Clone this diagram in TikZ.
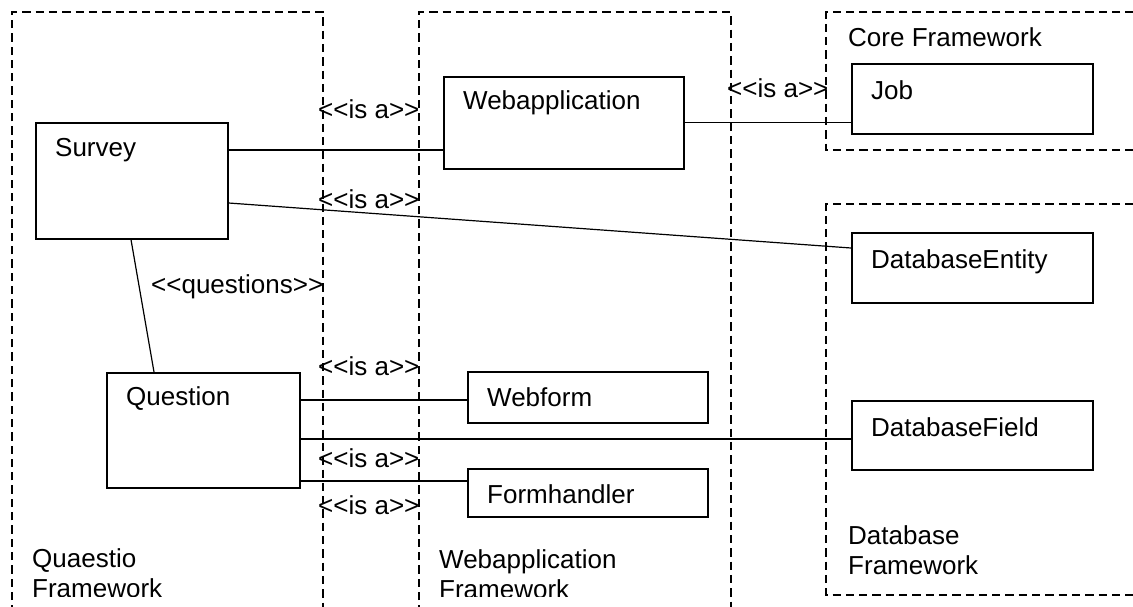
\documentclass[tikz,border=0pt]{standalone}
\usepackage{fontspec}
\setmainfont{Liberation Sans}
\usetikzlibrary{calc}

% stereotype label; the kern keeps << and >> from turning into guillemets
\newcommand\stereo[1]{<\kern0pt<#1>\kern0pt>}

\tikzset{
  frame/.style={line width=1.5pt, dash pattern=on 8.3pt off 5pt},
  umlbox/.style={draw, line width=1.6pt, rectangle, inner sep=0pt, anchor=north west},
  boxtext/.style={anchor=base west, inner sep=0pt},
  link/.style={line width=1.2pt},
  tag/.style={anchor=base west, inner sep=0pt},
  pkgname/.style={anchor=base west, inner sep=0pt, align=left}
}

% #1 name, #2 left, #3 top, #4 width, #5 height, #6 text, #7 baseline offset
\newcommand\classbox[7]{%
  \node[umlbox, minimum width=#4pt, minimum height=#5pt] (#1) at (#2,#3) {};
  \node[boxtext] (#1-name) at ($(#1.north west)+(20,#7)$) {#6};
}

\begin{document}
\begin{tikzpicture}[x=1pt, y=-1pt, font=\fontsize{26}{30}\selectfont]
  \clip (0,0) rectangle (1133,606);
  \fill[white] (0,0) rectangle (1133,606);

  % package frames
  \draw[frame] (12,640) -- (12,12) -- (323,12) -- (323,640);
  \draw[frame] (419,640) -- (419,12) -- (731,12) -- (731,640);
  \draw[frame] (1160,12) -- (826,12) -- (826,150) -- (1160,150);
  \draw[frame] (1160,204) -- (826,204) -- (826,595) -- (1160,595);

  % package names (base anchor sits on the last line)
  \node[pkgname] (core) at (848,46) {Core Framework};
  \begin{scope}
    \clip (0,0) rectangle (1133,596);
    \node[pkgname] (quaestio) at (32,597) {Quaestio\\Framework};
    \node[pkgname] (webfw) at (439,598) {Webapplication\\Framework};
  \end{scope}
  \node[pkgname] (dbfw) at (848,574) {Database\\Framework};

  % classes
  \classbox{survey}{35}{122}{192}{116}{Survey}{34}
  \classbox{webapp}{443}{76}{240}{92}{Webapplication}{33}
  \classbox{job}{851}{63}{241}{70}{Job}{36}
  \classbox{dbentity}{851}{232}{241}{70}{DatabaseEntity}{36}
  \classbox{question}{106}{372}{193}{115}{Question}{33}
  \classbox{webform}{467}{371}{240}{51}{Webform}{35}
  \classbox{formhandler}{467}{468}{240}{48}{Formhandler}{35}
  \classbox{dbfield}{851}{400}{241}{69}{DatabaseField}{36}

  % associations
  \draw[link] (survey.east |- 0,150) -- (webapp.west |- 0,150);
  \draw[link] (webapp.east) -- (job.west |- webapp.east);
  \draw[link] (survey.east |- 0,203) -- (dbentity.west |- 0,248);
  \draw[link] (survey.south -| 131,0) -- (question.north -| 154,0);
  \draw[link] (question.east |- 0,400) -- (webform.west |- 0,400);
  \draw[link] (question.east |- 0,439) -- (dbfield.west |- 0,439);
  \draw[link] (question.east |- 0,481) -- (formhandler.west |- 0,481);

  % stereotypes
  \node[tag] (t1) at (318,118) {\stereo{is a}};
  \node[tag] (t2) at (727,97) {\stereo{is a}};
  \node[tag] (t3) at (318,208) {\stereo{is a}};
  \node[tag] (t4) at (151,293) {\stereo{questions}};
  \node[tag] (t5) at (318,375) {\stereo{is a}};
  \node[tag] (t6) at (318,467) {\stereo{is a}};
  \node[tag] (t7) at (318,514) {\stereo{is a}};
\end{tikzpicture}
\end{document}
